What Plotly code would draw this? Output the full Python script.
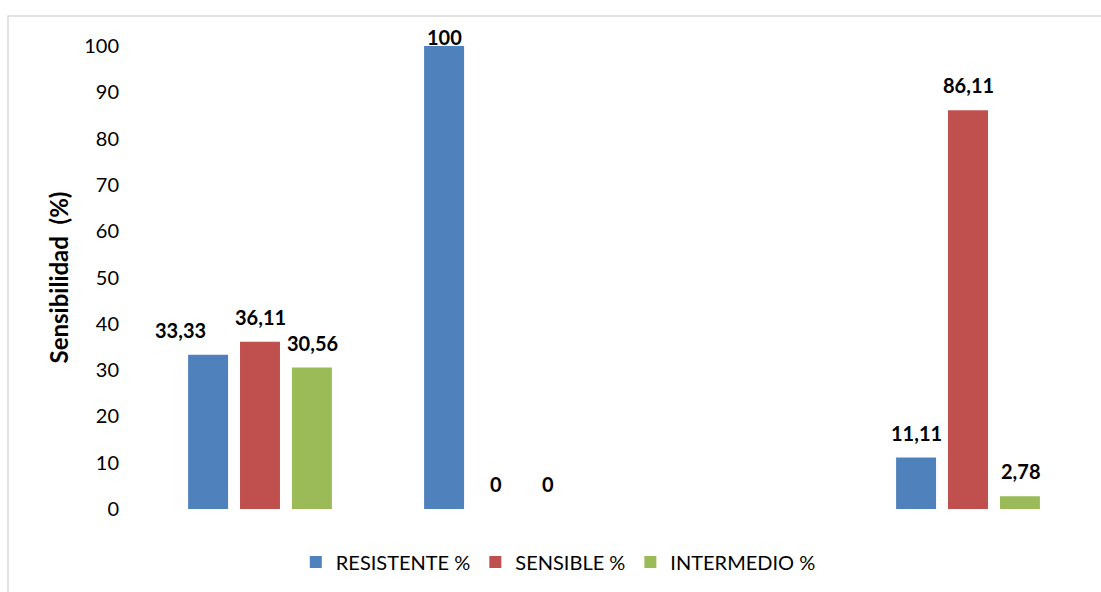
import plotly.graph_objects as go

# Categories (the third one has no measurements)
categories = ["A", "B", "C", "D"]
series_names = ["RESISTENTE %", "SENSIBLE %", "INTERMEDIO %"]
resistente = [33.33, 100, None, 11.11]
sensible = [36.11, 0, None, 86.11]
intermedio = [30.56, 0, None, 2.78]
y_ticks = [0, 10, 20, 30, 40, 50, 60, 70, 80, 90, 100]

colors = ["#4F81BD", "#C0504D", "#9BBB59"]
font_family = "Lato, 'Open Sans', sans-serif"

fig = go.Figure()
all_values = [resistente, sensible, intermedio]
for name, vals, col in zip(series_names, all_values, colors):
    fig.add_trace(go.Bar(x=categories, y=vals, name=name, marker_color=col,
                         marker_line_width=0))

# Value labels above each bar (comma as decimal separator)
slot_px = 52
label_lift = 25
label_nudge = {(0, 0): (-28, 0), (0, 1): (0, -16)}
for i, vals in enumerate(all_values):
    for j, v in enumerate(vals):
        if v is None:
            continue
        dx, dy = label_nudge.get((i, j), (0, 0))
        fig.add_annotation(x=categories[j], y=v, xref="x", yref="y",
                           text="<b>" + f"{v:g}".replace(".", ",") + "</b>",
                           showarrow=False, xshift=(i - 1) * slot_px + dx,
                           yshift=label_lift + dy, yanchor="middle",
                           font=dict(family=font_family, size=20, color="#000000"))

# Light outer frame of the chart area
fig.add_shape(type="rect", xref="paper", yref="paper",
              x0=(8 - 142) / 944, x1=1.2, y0=-0.3, y1=(510 - 16) / 464,
              line=dict(color="#D9D9D9", width=1.5), fillcolor="rgba(0,0,0,0)",
              layer="below")

fig.update_layout(
    width=1101, height=592,
    margin=dict(l=142, r=15, t=46, b=82),
    paper_bgcolor="white", plot_bgcolor="white",
    barmode="group", bargap=0.34, bargroupgap=0.23,
    font=dict(family=font_family, color="#000000"),
    showlegend=True,
    legend=dict(orientation="h", x=0.441, xanchor="center", y=-0.112, yanchor="middle",
                font=dict(family=font_family, size=20, color="#000000"),
                itemclick=False),
    xaxis=dict(showticklabels=False, showline=False, showgrid=False, zeroline=False,
               ticks=""),
    yaxis=dict(range=[0, 100], tickvals=y_ticks, showgrid=False, zeroline=False,
               showline=False, ticks="", ticklabelstandoff=22,
               tickfont=dict(family=font_family, size=20, color="#000000"),
               title=dict(text="<b>Sensibilidad  (%)</b>", standoff=8,
                          font=dict(family=font_family, size=24, color="#000000"))),
)

fig.write_html("out.html")
